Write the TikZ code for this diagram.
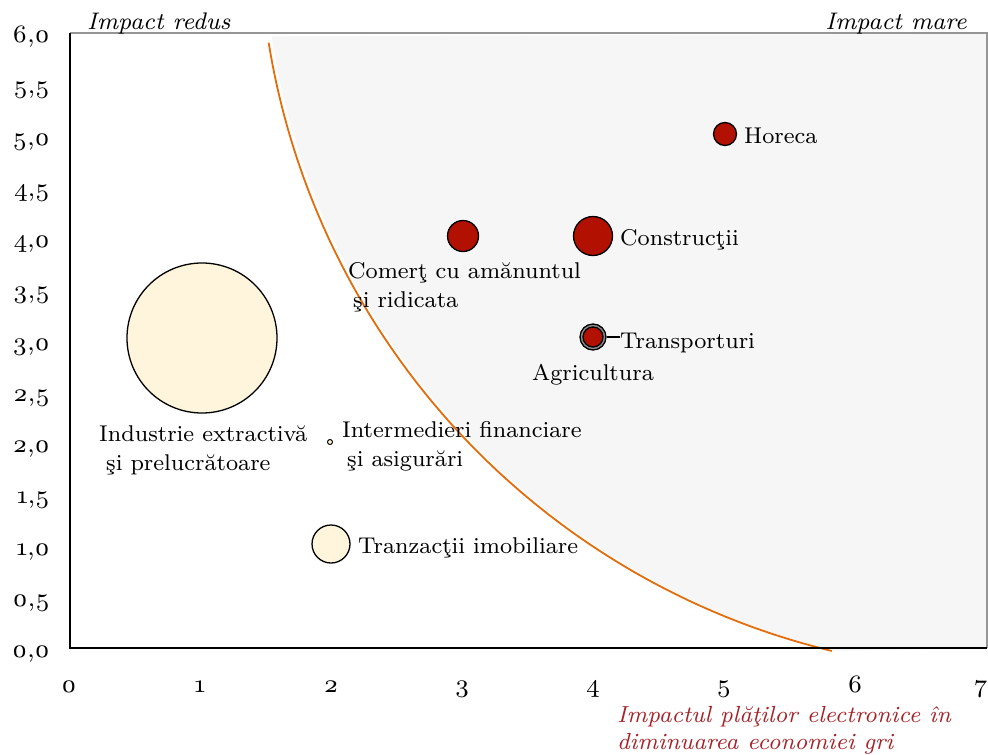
\documentclass[tikz,border=0pt]{standalone}
\usepackage{fontspec}
\setmainfont{lmroman8}[Extension=.otf, UprightFont=*-regular, ItalicFont=*-italic, BoldFont=lmroman10-bold, BoldItalicFont=lmroman10-bolditalic, Numbers=OldStyle]
\definecolor{bubred}{RGB}{178,16,0}
\definecolor{bubcream}{RGB}{255,245,221}
\definecolor{shadegray}{RGB}{246,246,246}
\definecolor{curveor}{RGB}{228,108,10}
\definecolor{titlered}{RGB}{165,35,40}
\definecolor{framegray}{RGB}{150,150,150}
\newcommand{\twoline}[2]{\begin{tabular}[t]{@{}l@{}}#1\\#2\end{tabular}}
\begin{document}
\begin{tikzpicture}[x=1pt,y=-1pt,
  lbl/.style={inner sep=0pt, font=\fontsize{22.8}{29}\selectfont},
  tlbl/.style={inner sep=0pt, font=\fontsize{25}{29}\selectfont},
  ilbl/.style={inner sep=0pt, font=\fontsize{24}{27}\selectfont\itshape},
  tilbl/.style={inner sep=0pt, font=\fontsize{23.3}{27}\selectfont\itshape},
  bub/.style={circle, draw=black, line width=1.3pt, inner sep=0pt},
  redbub/.style={bub, fill=bubred},
  creambub/.style={bub, fill=bubcream},
  ringbub/.style={bub, fill=black!45},
  leader/.style={draw=black, line width=1.3pt}]
\useasboundingbox (0,0) rectangle (988,755);
% shaded high-impact region (inside a large circle round the top-right corner)
\fill[shadegray] plot[domain=103.6:171.3, samples=120] ({1012+749*cos(\x)},{-77+749*sin(\x)}) -- (987,34) -- (987,648) -- cycle;
% boundary curve
\draw[curveor, line width=1.8pt] plot[domain=103.6:170.8, samples=120] ({1008+749*cos(\x)},{-77+749*sin(\x)});
% frame
\draw[framegray, line width=1.3pt] (70,33) -- (987,33) -- (987,648);
\draw[black, line width=1.6pt] (70,33) -- (70,648) -- (987,648);
% y ticks
\foreach \k/\t in {0/{0,0},1/{0,5},2/{1,0},3/{1,5},4/{2,0},5/{2,5},6/{3,0},7/{3,5},8/{4,0},9/{4,5},10/{5,0},11/{5,5},12/{6,0}}
  \node[tlbl, anchor=base east] (yt\k) at (50,{657.5-51.25*\k}) {\t};
% x ticks
\foreach \k in {0,...,6}
  \node[tlbl, anchor=base] (xt\k) at ({69+131*\k},692) {\k};
\node[tlbl, anchor=base east] (xt7) at (988,692) {7};
% corner captions
\node[ilbl, anchor=base west] (low) at (87,29) {Impact redus};
\node[ilbl, anchor=base east] (high) at (967,29) {Impact mare};
\node[tilbl, anchor=base west, text=titlered] (xtitle) at (617,722) {\twoline{Impactul plăţilor electronice în}{diminuarea economiei gri}};
% bubbles
\node[creambub, minimum size=150pt] (ind) at (202,338) {};
\node[bub, fill=bubcream, line width=1pt, minimum size=5pt] (fin) at (330,442) {};
\node[creambub, minimum size=38pt] (imob) at (331,544) {};
\node[redbub, minimum size=31pt] (com) at (463,236) {};
\node[redbub, minimum size=39pt] (cons) at (593,236) {};
\node[redbub, minimum size=23pt] (hor) at (725,134) {};
\node[ringbub, minimum size=26pt] (agr) at (593,337) {};
\node[redbub, minimum size=20pt] (tra) at (593,337) {};
% labels
\node[lbl, anchor=base west] (horl) at (744,143) {Horeca};
\node[lbl, anchor=base west] (consl) at (620,245) {Construcţii};
\node[lbl, anchor=base west] (coml) at (348,278) {\twoline{Comerţ cu amănuntul}{\hspace*{5pt}şi ridicata}};
\node[lbl, anchor=base west] (tral) at (620,348) {Transporturi};
\node[lbl, anchor=base] (agrl) at (593,380) {Agricultura};
\node[lbl, anchor=base west] (indl) at (99,441) {\twoline{Industrie extractivă}{\hspace*{7pt}şi prelucrătoare}};
\node[lbl, anchor=base west] (finl) at (342,437) {\twoline{Intermedieri financiare}{\hspace*{5pt}şi asigurări}};
\node[lbl, anchor=base west] (imobl) at (358,553) {Tranzacţii imobiliare};
% leader line
\draw[leader] (agr.east) -- (agr.east -| tral.west);
\end{tikzpicture}
\end{document}
